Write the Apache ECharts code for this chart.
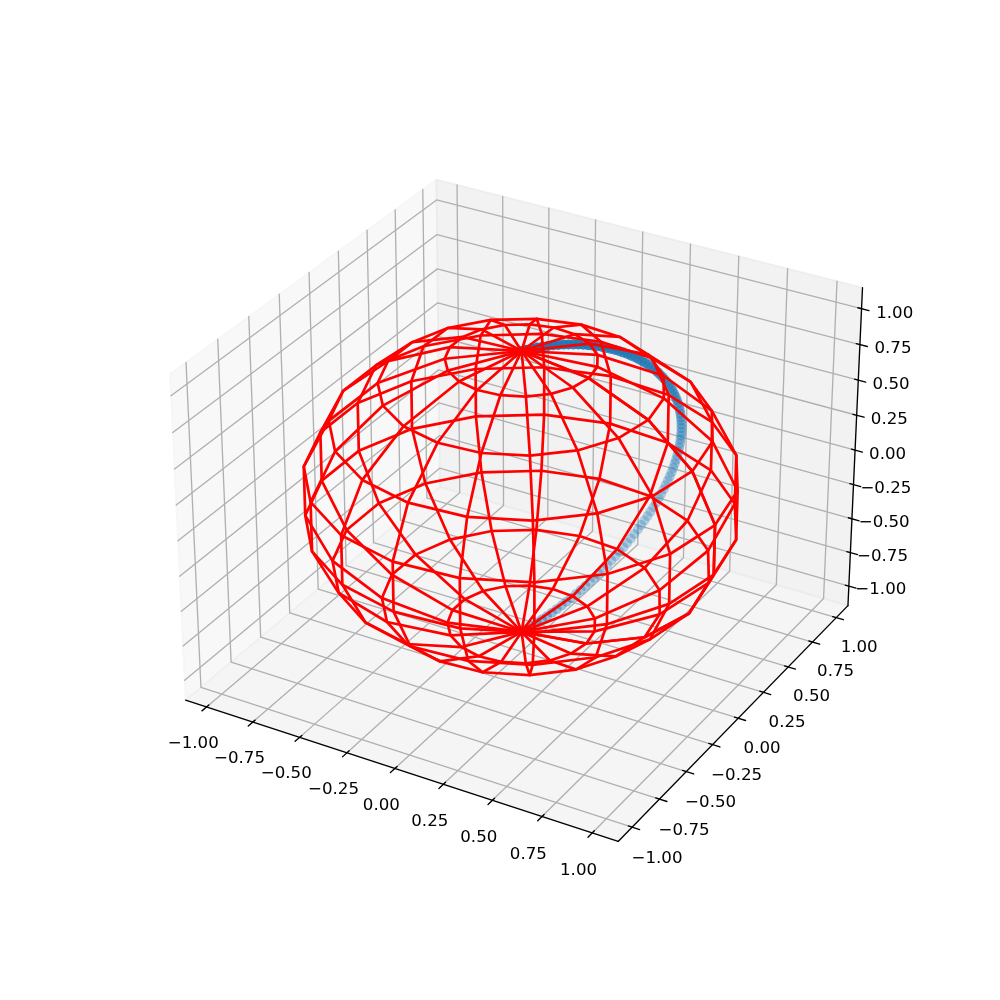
<!DOCTYPE html>
<html><head><meta charset="utf-8">
<style>html,body{margin:0;padding:0;background:#fff}#c{width:1000px;height:1000px}</style>
<script src="https://cdn.jsdelivr.net/npm/echarts@6/dist/echarts.min.js"></script>
</head><body><div id="c"></div>
<script>
// Sphere wireframe: 10 rings, 20 meridians
const ringZ = [1,0.9397,0.766,0.5,0.1736,-0.1736,-0.5,-0.766,-0.9397,-1];
const ringR = [0,0.342,0.6428,0.866,0.9848,0.9848,0.866,0.6428,0.342,0];
const meridianCos = [1,0.9458,0.7891,0.5469,0.2455,-0.0826,-0.4017,-0.6773,-0.8795,-0.9864,-0.9864,-0.8795,-0.6773,-0.4017,-0.0826,0.2455,0.5469,0.7891,0.9458,1];
const meridianSin = [0,0.3247,0.6142,0.8372,0.9694,0.9966,0.9158,0.7357,0.4759,0.1646,-0.1646,-0.4759,-0.7357,-0.9158,-0.9966,-0.9694,-0.8372,-0.6142,-0.3247,0];
// Scattered arc, point by point
const arcX = [0,0.0138,0.0278,0.0416,0.0553,0.0689,0.0825,0.0959,0.1091,0.1222,0.135,0.1477,0.1601,0.1723,0.1842,0.1958,0.207,0.218,0.2286,0.2388,0.2488,0.2582,0.2673,0.276,0.2843,0.2922,0.2995,0.3065,0.3131,0.3192,0.3247,0.3299,0.3345,0.3389,0.3426,0.3459,0.3488,0.3512,0.3531,0.3546,0.3556,0.3563,0.3565,0.3562,0.3556,0.3545,0.3531,0.3512,0.349,0.3465,
  0.3435,0.3402,0.3366,0.3327,0.3285,0.324,0.3192,0.3141,0.3087,0.3032,0.2974,0.2915,0.2852,0.2788,0.2723,0.2656,0.2587,0.2517,0.2445,0.2373,0.23,0.2225,0.2149,0.2073,0.1996,0.1919,0.184,0.1763,0.1684,0.1604,0.1524,0.1444,0.1364,0.1284,0.1204,0.1124,0.1043,0.0963,0.0883,0.0802,0.0722,0.0641,0.0561,0.0481,0.0401,0.0321,0.024,0.016,0.008,0];
const arcY = [0,0.0232,0.0465,0.0696,0.0928,0.1159,0.1392,0.1621,0.1851,0.2081,0.2309,0.2537,0.2764,0.2988,0.3213,0.3435,0.3657,0.3877,0.4094,0.4312,0.4525,0.4737,0.4946,0.5153,0.5357,0.5557,0.5756,0.5949,0.614,0.6328,0.651,0.6689,0.6862,0.7032,0.7197,0.7355,0.7509,0.7658,0.7799,0.7934,0.8064,0.8186,0.8301,0.841,0.851,0.8604,0.8689,0.8765,0.8834,0.8894,
  0.8944,0.8986,0.9019,0.9041,0.9054,0.9058,0.9052,0.9035,0.9008,0.8972,0.8924,0.8865,0.8798,0.8719,0.8629,0.8529,0.8418,0.8296,0.8165,0.8022,0.787,0.7706,0.7533,0.735,0.7157,0.6955,0.6743,0.6522,0.6291,0.6053,0.5806,0.555,0.5287,0.5017,0.4739,0.4455,0.4164,0.3868,0.3565,0.3257,0.2945,0.2629,0.2309,0.1986,0.1659,0.133,0.1,0.0667,0.0334,0];
const arcZ = [1,0.9995,0.998,0.9955,0.992,0.9874,0.9819,0.9754,0.9679,0.9595,0.9501,0.9397,0.9284,0.9161,0.9029,0.8888,0.8738,0.858,0.8413,0.8237,0.8053,0.786,0.766,0.7453,0.7237,0.7015,0.6785,0.6549,0.6306,0.6056,0.5801,0.5539,0.5272,0.5,0.4723,0.4441,0.4154,0.3863,0.3569,0.3271,0.2969,0.2665,0.2358,0.2048,0.1736,0.1423,0.1108,0.0793,0.0476,0.0159,
  -0.0159,-0.0476,-0.0793,-0.1108,-0.1423,-0.1736,-0.2048,-0.2358,-0.2665,-0.2969,-0.3271,-0.3569,-0.3863,-0.4154,-0.4441,-0.4723,-0.5,-0.5272,-0.5539,-0.5801,-0.6056,-0.6306,-0.6549,-0.6785,-0.7015,-0.7237,-0.7453,-0.766,-0.786,-0.8053,-0.8237,-0.8413,-0.858,-0.8738,-0.8888,-0.9029,-0.9161,-0.9284,-0.9397,-0.9501,-0.9595,-0.9679,-0.9754,-0.9819,-0.9874,-0.992,-0.9955,-0.998,-0.9995,-1];
// Axes
const tickValues = [-1,-0.75,-0.5,-0.25,0,0.25,0.5,0.75,1];
const tickLabels = ['\u22121.00','\u22120.75','\u22120.50','\u22120.25','0.00','0.25','0.50','0.75','1.00'];
const xLim = [-1.114,1.128], yLim = [-1.125,1.125], zLim = [-1.146,1.146];
const boxAspect = [1.1905,1.1905,0.8929];
const dist = 10, elev = 30*Math.PI/180, azim = -60*Math.PI/180;

function sub(a,b){return [a[0]-b[0],a[1]-b[1],a[2]-b[2]];}
function dot(a,b){return a[0]*b[0]+a[1]*b[1]+a[2]*b[2];}
function cross(a,b){return [a[1]*b[2]-a[2]*b[1],a[2]*b[0]-a[0]*b[2],a[0]*b[1]-a[1]*b[0]];}
function unit(a){const n=Math.sqrt(dot(a,a));return a.map(v=>v/n);}
const centre = boxAspect.map(v=>v/2);
const dirEye = [Math.cos(elev)*Math.cos(azim),Math.cos(elev)*Math.sin(azim),Math.sin(elev)];
const eye = centre.map((v,i)=>v+dist*dirEye[i]);
const w = unit(dirEye), u = unit(cross([0,0,1],w)), v = cross(w,u);
function view(p){
  const q=[(p[0]-xLim[0])/(xLim[1]-xLim[0])*boxAspect[0],(p[1]-yLim[0])/(yLim[1]-yLim[0])*boxAspect[1],(p[2]-zLim[0])/(zLim[1]-zLim[0])*boxAspect[2]];
  return sub(q,eye);
}
function proj(p){
  const d=view(p), s=-dot(w,d);
  const px=dot(u,d)/s, py=dot(v,d)/s;
  return [127.5+770*(px+0.095)/0.185, 890-770*(py+0.095)/0.185];
}
function depth(p){return -dot(w,view(p));}

const x0=xLim[0],x1=xLim[1],y0=yLim[0],y1=yLim[1],z0=zLim[0],z1=zLim[1];
const panes = [
 {c:'rgba(242,242,242,0.5)',p:[[x0,y0,z0],[x0,y1,z0],[x0,y1,z1],[x0,y0,z1]]},
 {c:'rgba(230,230,230,0.5)',p:[[x0,y1,z0],[x1,y1,z0],[x1,y1,z1],[x0,y1,z1]]},
 {c:'rgba(236,236,236,0.5)',p:[[x0,y0,z0],[x1,y0,z0],[x1,y1,z0],[x0,y1,z0]]}
].map(o=>({color:o.c,pts:o.p.map(proj)}));

const gridPaths=[],tickPaths=[],labelData=[];
const dxT=(x1-x0)/12,dyT=(y1-y0)/12;
tickValues.forEach((t,i)=>{
  gridPaths.push([[t,y0,z0],[t,y1,z0],[t,y1,z1]].map(proj));
  gridPaths.push([[x1,t,z0],[x0,t,z0],[x0,t,z1]].map(proj));
  gridPaths.push([[x1,y1,t],[x0,y1,t],[x0,y0,t]].map(proj));
  tickPaths.push([[t,y0+0.1*dyT,z0],[t,y0-0.2*dyT,z0]].map(proj));
  tickPaths.push([[x1-0.1*dxT,t,z0],[x1+0.2*dxT,t,z0]].map(proj));
  tickPaths.push([[x1-0.1*dxT,y1,t],[x1+0.2*dxT,y1,t]].map(proj));
  labelData.push({pos:proj([t-0.005,y0-0.11,z0-0.185]),text:tickLabels[i]});
  labelData.push({pos:proj([x1+0.125,t,z0-0.17]),text:tickLabels[i]});
  labelData.push({pos:proj([x1+0.12,y1+0.1,t-0.05]),text:tickLabels[i]});
});
const axisPaths=[[[x0,y0,z0],[x1,y0,z0]],[[x1,y0,z0],[x1,y1,z0]],[[x1,y1,z0],[x1,y1,z1]]].map(s=>s.map(proj));

const wire=[];
ringZ.forEach((z,j)=>{wire.push(meridianCos.map((c,i)=>proj([c*ringR[j],meridianSin[i]*ringR[j],z])));});
meridianCos.forEach((c,i)=>{wire.push(ringZ.map((z,j)=>proj([c*ringR[j],meridianSin[i]*ringR[j],z])));});

const arcPts=arcZ.map((z,i)=>[arcX[i],arcY[i],z]);
const ds=arcPts.map(depth),dMin=Math.min(...ds),dMax=Math.max(...ds);
const arcData=arcPts.map((p,i)=>({value:proj(p),d:ds[i],itemStyle:{opacity:1-0.7*(ds[i]-dMin)/(dMax-dMin)}}))
  .sort((a,b)=>b.d-a.d).map(o=>({value:o.value,itemStyle:o.itemStyle}));

function linesSeries(paths,color,width,z){
  return {type:'lines',coordinateSystem:'cartesian2d',polyline:true,silent:true,z:z,animation:false,
    lineStyle:{color:color,width:width,opacity:1,cap:'round',join:'round'},
    data:paths.map(p=>({coords:p}))};
}
const chart=echarts.init(document.getElementById('c'),null,{renderer:'canvas'});
chart.setOption({
  animation:false,backgroundColor:'#fff',
  grid:{left:0,right:0,top:0,bottom:0,containLabel:false},
  xAxis:{type:'value',min:0,max:1000,show:false},
  yAxis:{type:'value',min:0,max:1000,inverse:true,show:false},
  series:[
    {type:'custom',coordinateSystem:'cartesian2d',silent:true,z:1,data:panes.map((p,i)=>[i]),
     renderItem:(params,api)=>{const p=panes[api.value(0)];
       return {type:'polygon',shape:{points:p.pts.map(q=>api.coord(q))},style:{fill:p.color,stroke:p.color,lineWidth:1.67}};}},
    linesSeries(gridPaths,'#b0b0b0',1.33,2),
    linesSeries(axisPaths,'#000',1.33,3),
    linesSeries(tickPaths,'#000',1.33,3),
    {type:'scatter',coordinateSystem:'cartesian2d',silent:true,z:4,symbol:'circle',symbolSize:10,
     itemStyle:{color:'#1f77b4'},data:arcData},
    linesSeries(wire,'#ff0000',2.7,5),
    {type:'custom',coordinateSystem:'cartesian2d',silent:true,z:6,data:labelData.map((l,i)=>[i]),
     renderItem:(params,api)=>{const l=labelData[api.value(0)],c=api.coord(l.pos);
       return {type:'text',x:c[0],y:c[1],style:{text:l.text,fill:'#000',font:'16.67px "DejaVu Sans"',textAlign:'center',textVerticalAlign:'middle'}};}}
  ]
});
</script></body></html>
